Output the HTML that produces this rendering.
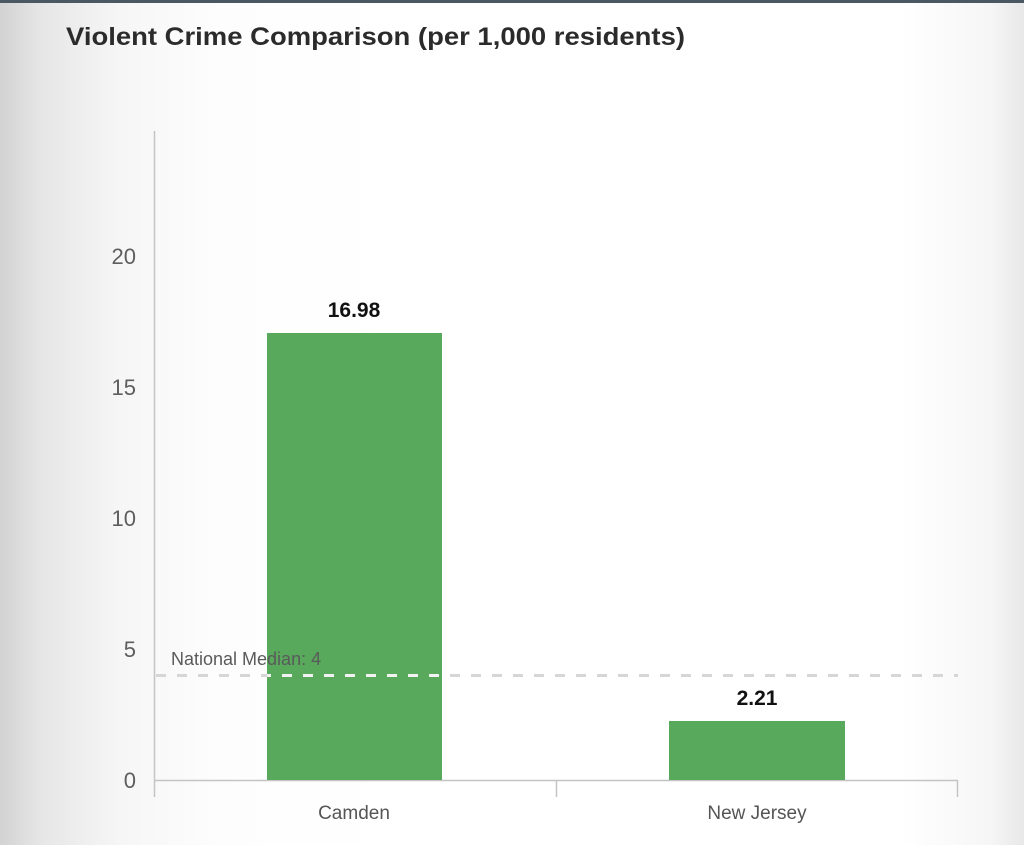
<!DOCTYPE html>
<html><head><meta charset="utf-8"><style>
html,body{margin:0;padding:0;}
body{width:1024px;height:845px;overflow:hidden;position:relative;font-family:"Liberation Sans",sans-serif;
background:linear-gradient(to right,#d2d2d2 0px,#e6e6e6 40px,#f6f6f6 120px,#fdfdfd 220px,#ffffff 400px,#ffffff 900px,#f6f6f6 990px,#e8e8e8 1024px);}
.top{position:absolute;left:0;top:0;width:1024px;height:3px;background:#4b5763;}
</style></head><body>
<div class="top"></div>
<svg width="1024" height="845" style="position:absolute;left:0;top:0" font-family="Liberation Sans, sans-serif">
<defs><clipPath id="c"><rect x="267" y="600" width="175" height="180"/></clipPath></defs>
<text x="66" y="45" font-size="25" font-weight="bold" fill="#2b2b2b" textLength="619" lengthAdjust="spacingAndGlyphs">Violent Crime Comparison (per 1,000 residents)</text>
<line x1="154.5" y1="131" x2="154.5" y2="797" stroke="#c4c4c4" stroke-width="1.5"/>
<line x1="154" y1="780.5" x2="958" y2="780.5" stroke="#c4c4c4" stroke-width="1.5"/>
<line x1="556.5" y1="780" x2="556.5" y2="797" stroke="#c4c4c4" stroke-width="1.5"/>
<line x1="957.5" y1="780" x2="957.5" y2="797" stroke="#c4c4c4" stroke-width="1.5"/>
<g font-size="22" fill="#5e5e5e" text-anchor="end">
<text x="136" y="788">0</text>
<text x="136" y="657">5</text>
<text x="136" y="526">10</text>
<text x="136" y="395">15</text>
<text x="136" y="264">20</text>
</g>
<rect x="267" y="333" width="175" height="447" fill="#58a95c"/>
<rect x="669" y="721" width="176" height="59" fill="#58a95c"/>
<line x1="156" y1="675.5" x2="958" y2="675.5" stroke="#d6d6d6" stroke-width="3" stroke-dasharray="10,11"/>
<line x1="156" y1="675.5" x2="958" y2="675.5" stroke="#f2f2f2" stroke-width="3" stroke-dasharray="10,11" clip-path="url(#c)"/>
<text x="171" y="665" font-size="18" fill="#5a5a5a">National Median: 4</text>
<text x="354" y="317" font-size="21" font-weight="bold" fill="#111" text-anchor="middle">16.98</text>
<text x="757" y="705" font-size="21" font-weight="bold" fill="#111" text-anchor="middle">2.21</text>
<text x="354" y="819" font-size="19" fill="#555" text-anchor="middle">Camden</text>
<text x="757" y="819" font-size="19" fill="#555" text-anchor="middle">New Jersey</text>
</svg>
</body></html>
